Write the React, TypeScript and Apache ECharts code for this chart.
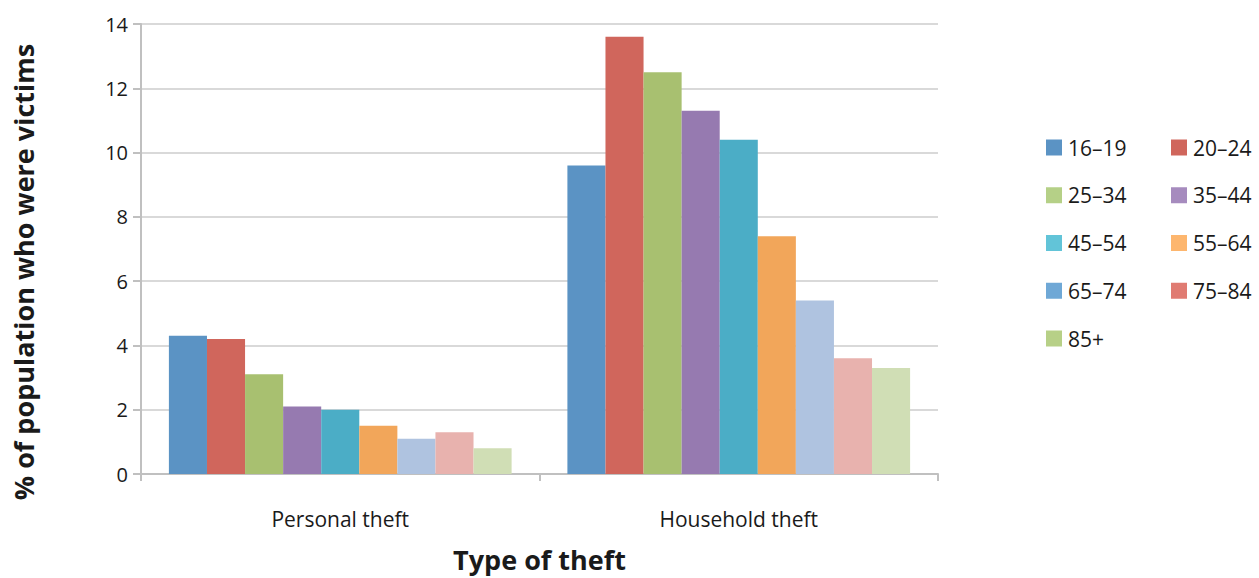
import React, { useEffect, useRef } from "react";
import * as echarts from "echarts";

const categories = ["Personal theft", "Household theft"];
const ageGroups = ["16–19", "20–24", "25–34", "35–44", "45–54", "55–64", "65–74", "75–84", "85+"];
const personalTheft = [4.3, 4.2, 3.1, 2.1, 2.0, 1.5, 1.1, 1.3, 0.8];
const householdTheft = [9.6, 13.6, 12.5, 11.3, 10.4, 7.4, 5.4, 3.6, 3.3];
const yTicks = [0, 2, 4, 6, 8, 10, 12, 14];
const yTitle = "% of population who were victims";
const xTitle = "Type of theft";

const barColors = ["#5B93C4", "#D0665C", "#A8C070", "#967AB0", "#4BADC6", "#F2A65A", "#AFC3E0", "#E8B2AE", "#D0DEB5"];
const legendColors = ["#5B93C4", "#D0665C", "#B5D087", "#A68BBE", "#62C4D8", "#FDB66E", "#6FA8D6", "#E07B72", "#B7D087"];

const FONT = "'Open Sans', 'Noto Sans', sans-serif";

export default function App() {
  const ref = useRef<HTMLDivElement>(null);
  useEffect(() => {
    document.body.style.margin = "0";
    const chart = echarts.init(ref.current!, null, { renderer: "svg" });
    const legendItem = (i: number) => ({
      name: ageGroups[i],
      itemStyle: { color: legendColors[i] },
    });
    const legendBase = {
      orient: "vertical" as const,
      top: 132,
      itemWidth: 16,
      itemHeight: 16,
      itemGap: 26.75,
      icon: "rect",
      textStyle: { fontFamily: FONT, fontSize: 21, color: "#1a1a1a", padding: [0, 0, 0, 1] },
    };
    chart.setOption({
      animation: false,
      textStyle: { fontFamily: FONT },
      grid: { left: 141, right: 321, top: 24, bottom: 104, outerBoundsMode: "none", containLabel: false },
      legend: [
        { ...legendBase, left: 1041, data: [0, 2, 4, 6, 8].map(legendItem) },
        { ...legendBase, left: 1166, data: [1, 3, 5, 7].map(legendItem) },
      ],
      graphic: [
        {
          type: "text",
          x: 23,
          y: 272,
          rotation: Math.PI / 2,
          style: {
            text: yTitle,
            fontFamily: FONT,
            fontSize: 27,
            fontWeight: "bold",
            fill: "#1a1a1a",
            textAlign: "center",
            textVerticalAlign: "middle",
          },
        },
      ],
      xAxis: {
        type: "category",
        data: categories,
        name: xTitle,
        nameLocation: "middle",
        nameGap: 72,
        nameTextStyle: { fontFamily: FONT, fontSize: 27, fontWeight: "bold", color: "#1a1a1a" },
        axisLine: { lineStyle: { color: "#c0c0c0", width: 2 } },
        axisTick: { show: true, length: 7, lineStyle: { color: "#c0c0c0", width: 2 } },
        axisLabel: { fontFamily: FONT, fontSize: 21, color: "#1a1a1a", margin: 34 },
      },
      yAxis: {
        type: "value",
        min: 0,
        max: 14,
        interval: 2,
        axisLine: { show: true, lineStyle: { color: "#c0c0c0", width: 2 } },
        axisTick: { show: true, length: 8, lineStyle: { color: "#c0c0c0", width: 2 } },
        axisLabel: {
          fontFamily: FONT,
          fontSize: 20,
          color: "#1a1a1a",
          margin: 13,
          formatter: (v: number) => (yTicks.includes(v) ? String(v) : ""),
        },
        splitLine: { lineStyle: { color: "#d9d9d9", width: 2 } },
      },
      series: ageGroups.map((g, i) => ({
        name: g,
        type: "bar",
        data: [personalTheft[i], householdTheft[i]],
        barGap: "0%",
        barCategoryGap: "14%",
        itemStyle: { color: barColors[i] },
      })),
    });
    return () => chart.dispose();
  }, []);
  return <div ref={ref} style={{ width: 1259, height: 578 }} />;
}
